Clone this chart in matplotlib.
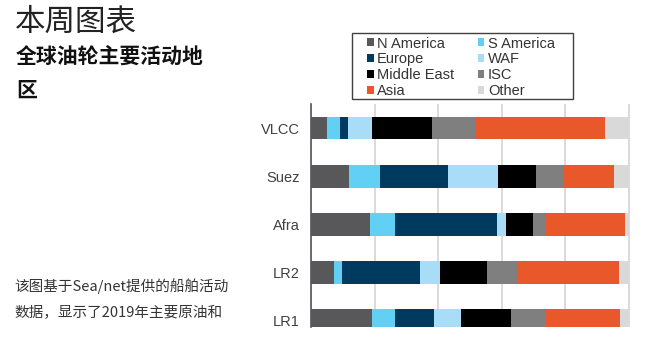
import matplotlib
matplotlib.use("Agg")
import matplotlib.pyplot as plt
from matplotlib.patches import Rectangle
import numpy as np

categories = ["VLCC", "Suez", "Afra", "LR2", "LR1"]
regions = ["N America", "S America", "Europe", "WAF", "Middle East", "ISC", "Asia", "Other"]
values = {
    "N America":   [4.9, 12.0, 18.7, 7.2, 19.2],
    "S America":   [4.2, 9.8, 7.8, 2.4, 7.3],
    "Europe":      [2.6, 21.2, 31.9, 24.6, 12.3],
    "WAF":         [7.6, 15.8, 2.9, 6.5, 8.5],
    "Middle East": [18.7, 12.1, 8.5, 14.6, 15.7],
    "ISC":         [13.6, 8.2, 4.1, 9.4, 10.9],
    "Asia":        [40.8, 16.3, 24.9, 32.0, 23.2],
    "Other":       [7.6, 4.6, 1.2, 3.3, 2.9],
}
colors = {
    "N America": "#58585a",
    "S America": "#62cff4",
    "Europe": "#003a5f",
    "WAF": "#a9dcf7",
    "Middle East": "#000000",
    "ISC": "#7f7f80",
    "Asia": "#e8582b",
    "Other": "#d9d9d9",
}
title = "本周图表"
subtitle1 = "全球油轮主要活动地"
subtitle2 = "区"
note1 = "该图基于Sea/net提供的船舶活动"
note2 = "数据，显示了2019年主要原油和"

plt.rcParams['font.family'] = ['Liberation Sans', 'Noto Sans CJK SC', 'DejaVu Sans']

W, H = 652, 346
fig = plt.figure(figsize=(W/100, H/100), dpi=100)
ax = fig.add_axes([311/W, 1-327/H, (630-311)/W, (327-104)/H])

y = np.arange(len(categories))
left = np.zeros(len(categories))
handles = {}
for r in regions:
    v = np.array(values[r])
    h = ax.barh(y, v, left=left, height=0.47, color=colors[r], label=r, zorder=3)
    handles[r] = h
    left += v

ax.set_xlim(0, 100.3)
ax.set_ylim(4.13, -0.5)
ax.set_xticks([0, 20, 40, 60, 80, 100])
ax.xaxis.grid(True, color="#d4d4d4", lw=1.2, zorder=0)
ax.set_axisbelow(True)
ax.tick_params(axis='x', length=0, labelbottom=False)
ax.set_yticks(y)
ax.set_yticklabels(categories, fontsize=10.5, color="#404040")
ax.tick_params(axis='y', length=0, pad=8)
for s in ["top", "right", "bottom"]:
    ax.spines[s].set_visible(False)
ax.spines["left"].set_color("#555555")
ax.spines["left"].set_linewidth(1.2)

# legend frame
fig.patches.append(Rectangle((352/W, 1-99/H), (573-352)/W, (99-33)/H,
                             transform=fig.transFigure, fill=False,
                             edgecolor="#404040", linewidth=1.0))
order = ["N America", "Europe", "Middle East", "Asia", "S America", "WAF", "ISC", "Other"]
leg = fig.legend([handles[o] for o in order], order, ncol=2,
                 loc="upper left", bbox_to_anchor=(367/W, 1-36.5/H),
                 fontsize=10.5, frameon=False,
                 handlelength=0.45, handleheight=0.45,
                 handletextpad=0.25, labelspacing=0.13, columnspacing=1.6,
                 borderpad=0, borderaxespad=0)
for t in leg.get_texts():
    t.set_color("#333333")

cjk = ['Noto Sans CJK SC', 'DejaVu Sans']
fig.text(15/W, 1-22/H, title, fontsize=22, family=cjk, color="#222222", va="center", ha="left")
fig.text(16/W, 1-57/H, subtitle1, fontsize=15, family=cjk, fontweight="bold", color="#111111", va="center", ha="left")
fig.text(16/W, 1-90/H, subtitle2, fontsize=15, family=cjk, fontweight="bold", color="#111111", va="center", ha="left")
fig.text(14/W, 1-286/H, note1, fontsize=10.5, family=cjk, color="#333333", va="center", ha="left")
fig.text(14/W, 1-313/H, note2, fontsize=10.5, family=cjk, color="#333333", va="center", ha="left")

fig.savefig("out.png", dpi=100)
